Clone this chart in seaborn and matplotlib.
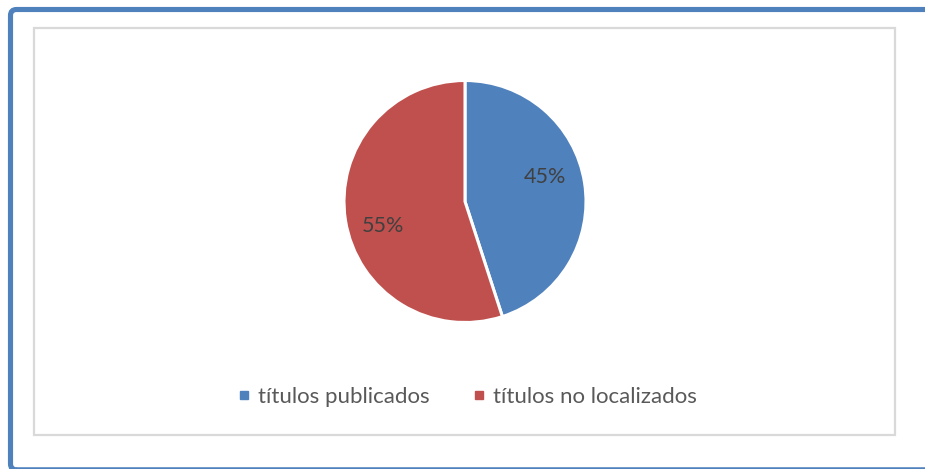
import matplotlib
matplotlib.use("Agg")
import matplotlib.pyplot as plt
import seaborn as sns
from matplotlib.patches import FancyBboxPatch, Rectangle
from matplotlib.lines import Line2D
from matplotlib.transforms import IdentityTransform

# Chart data
categories = ["títulos publicados", "títulos no localizados"]
shares = [45, 55]
colors = ["#4F81BD", "#C0504D"]

sns.set_theme(style="white")
plt.rcParams["font.family"] = ["Lato", "DejaVu Sans"]

W, H, DPI = 925, 469, 100
fig = plt.figure(figsize=(W / DPI, H / DPI), dpi=DPI)
fig.patch.set_facecolor("white")

def px_box(x0, y0, x1, y1):
    # pixel coordinates measured from the top-left corner -> display coords
    return x0, H - y1, x1 - x0, y1 - y0

# outer blue frame
x, y, w, h = px_box(10.5, 9.5, 940, 469.8)
fig.patches.append(FancyBboxPatch((x, y), w, h,
                                  boxstyle="round,pad=0,rounding_size=6",
                                  transform=IdentityTransform(),
                                  facecolor="none", edgecolor="#4F81BD",
                                  linewidth=3.7, zorder=0))
# chart area border
x, y, w, h = px_box(34, 28, 895, 435)
fig.patches.append(Rectangle((x, y), w, h, transform=IdentityTransform(),
                             facecolor="none", edgecolor="#D9D9D9",
                             linewidth=1.6, zorder=0))

# pie axes: centre (465, 201.5) px, radius 121 px
cx, cy, r = 465, 201.5, 121
ax = fig.add_axes([(cx - r) / W, 1 - (cy + r) / H, 2 * r / W, 2 * r / H])
wedges, texts, autotexts = ax.pie(
    shares, colors=colors, startangle=90, counterclock=False,
    autopct="%1.0f%%", pctdistance=0.7,
    wedgeprops=dict(edgecolor="white", linewidth=2.2),
    textprops=dict(color="#404040", fontsize=15.5),
)
label_pos = [(0.66, 0.20), (-0.68, -0.20)]
for t, p in zip(autotexts, label_pos):
    t.set_position(p)
ax.set_xlim(-1, 1)
ax.set_ylim(-1, 1)
ax.set_aspect("auto")
ax.axis("off")

handles = [Line2D([], [], linestyle="none", marker="s", markersize=6,
                  markerfacecolor=c, markeredgecolor=c) for c in colors]
leg = fig.legend(handles, categories, loc="center",
                 bbox_to_anchor=(467 / W, 1 - 397 / H), ncol=2, frameon=False,
                 fontsize=16, handlelength=0.6, handletextpad=0.35,
                 columnspacing=1.9, labelcolor="#595959")

fig.savefig("out.png", dpi=DPI)
